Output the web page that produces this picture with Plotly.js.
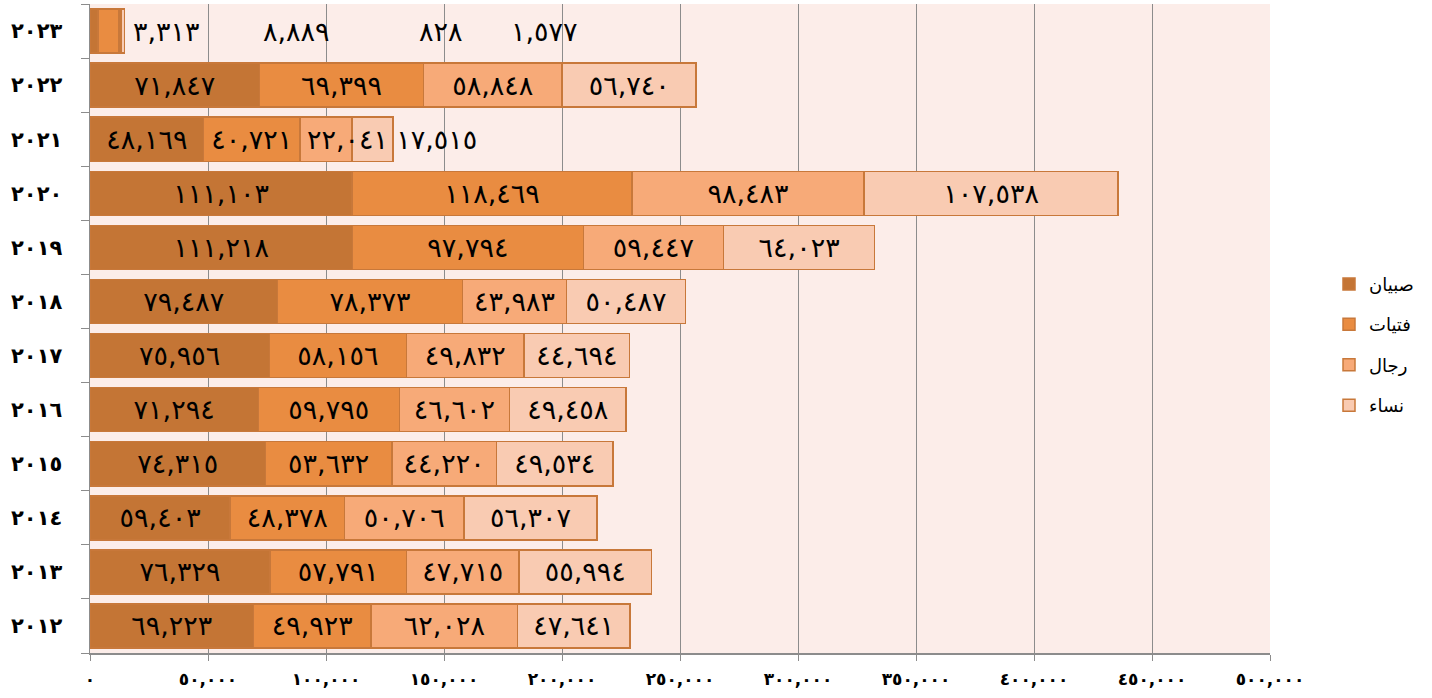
<!DOCTYPE html>
<html>
<head>
<meta charset="utf-8">
<script src="https://cdn.plot.ly/plotly-3.0.1.min.js"></script>
<style>html,body{margin:0;padding:0;background:#fff;}#chart{width:1432px;height:698px;}</style>
</head>
<body>
<div id="chart"></div>
<script>
// ---- data ----
var years = [2012, 2013, 2014, 2015, 2016, 2017, 2018, 2019, 2020, 2021, 2022, 2023];
var seriesNames = ["صبيان", "فتيات", "رجال ", "نساء"];
var boys  = [69223, 76329, 59403, 74315, 71294, 75956, 79487, 111218, 111103, 48169, 71847, 3313];
var girls = [49923, 57791, 48378, 53632, 59795, 58156, 78373, 97794, 118469, 40721, 69399, 8889];
var men   = [62028, 47715, 50706, 44220, 46602, 49832, 43983, 59447, 98483, 22041, 58848, 828];
var women = [47641, 55994, 56307, 49534, 49458, 44694, 50487, 64023, 107538, 17515, 56740, 1577];
var xTicks = [0, 50000, 100000, 150000, 200000, 250000, 300000, 350000, 400000, 450000, 500000];

// ---- helpers ----
function ar(s) {
  var d = "٠١٢٣٤٥٦٧٨٩";
  return String(s).replace(/[0-9]/g, function (c) { return d[+c]; });
}
function fmt(n) { return ar(n.toLocaleString("en-US")); }

var yCats = years.map(function (y) { return ar(y); });
var allSeries = [boys, girls, men, women];
var colors = ["#C47535", "#E98C41", "#F7AA78", "#F9CBB2"];
var lastIdx = years.length - 1;
var idx2021 = years.indexOf(2021);
var labelFont = {family: "DejaVu Sans", size: 27, color: "#000"};

var traces = allSeries.map(function (vals, i) {
  var pos = vals.map(function (v, j) {
    if (j === lastIdx) return "none";
    if (j === idx2021 && i === 2) return "none";      // drawn as annotation (overflows its bar)
    if (j === idx2021 && i === 3) return "outside";
    return "inside";
  });
  return {
    type: "bar",
    orientation: "h",
    name: seriesNames[i],
    legendgroup: "g" + i,
    y: yCats,
    x: vals,
    text: vals.map(fmt),
    textposition: pos,
    insidetextanchor: "middle",
    constraintext: "none",
    cliponaxis: false,
    textfont: labelFont,
    outsidetextfont: labelFont,
    insidetextfont: labelFont,
    marker: {color: colors[i], line: {color: "#C8783A", width: 1.5}},
    hoverinfo: "skip"
  };
});

// labels of the tiny 2023 segments, placed to the right as in the source
var labelX2023 = [32600, 87700, 148700, 192400];
var annotations = allSeries.map(function (vals, i) {
  return {
    x: labelX2023[i], y: yCats[lastIdx], xref: "x", yref: "y",
    text: fmt(vals[lastIdx]), showarrow: false,
    font: labelFont
  };
});
// 2021 "men" label, overflowing its short segment
annotations.push({
  x: boys[idx2021] + girls[idx2021] + men[idx2021] / 2, y: yCats[idx2021],
  xref: "x", yref: "y", xshift: 22,
  text: fmt(men[idx2021]), showarrow: false, font: labelFont
});

var layout = {
  width: 1432, height: 698,
  margin: {l: 90, r: 162, t: 4, b: 45},
  paper_bgcolor: "#ffffff",
  plot_bgcolor: "#FCEDE9",
  barmode: "stack",
  bargap: 0.185,
  showlegend: true,
  legend: {
    x: 1.05, y: 0.475, xanchor: "left", yanchor: "middle",
    traceorder: "grouped", tracegroupgap: 14,
    font: {family: "DejaVu Sans", size: 18, color: "#000"},
    itemwidth: 30
  },
  xaxis: {
    range: [0, 500000],
    tickvals: xTicks,
    ticktext: xTicks.map(fmt),
    showgrid: true, gridcolor: "#8C8C8C", gridwidth: 1,
    zeroline: false,
    showline: true, linecolor: "#8C8C8C", linewidth: 1.5,
    ticks: "outside", ticklen: 6, tickcolor: "#8C8C8C",
    ticklabelstandoff: 4,
    tickfont: {family: "DejaVu Sans", size: 17, color: "#000", weight: "bold"}
  },
  yaxis: {
    type: "category",
    categoryorder: "array", categoryarray: yCats,
    showgrid: false, zeroline: false,
    showline: true, linecolor: "#8C8C8C", linewidth: 1.5,
    ticks: "outside", tickson: "boundaries", ticklen: 8, tickcolor: "#8C8C8C",
    ticklabelstandoff: 22,
    tickfont: {family: "DejaVu Sans", size: 21, color: "#000", weight: "bold"}
  },
  annotations: annotations
};

Plotly.newPlot("chart", traces, layout, {displayModeBar: false, staticPlot: true});
</script>
</body>
</html>
